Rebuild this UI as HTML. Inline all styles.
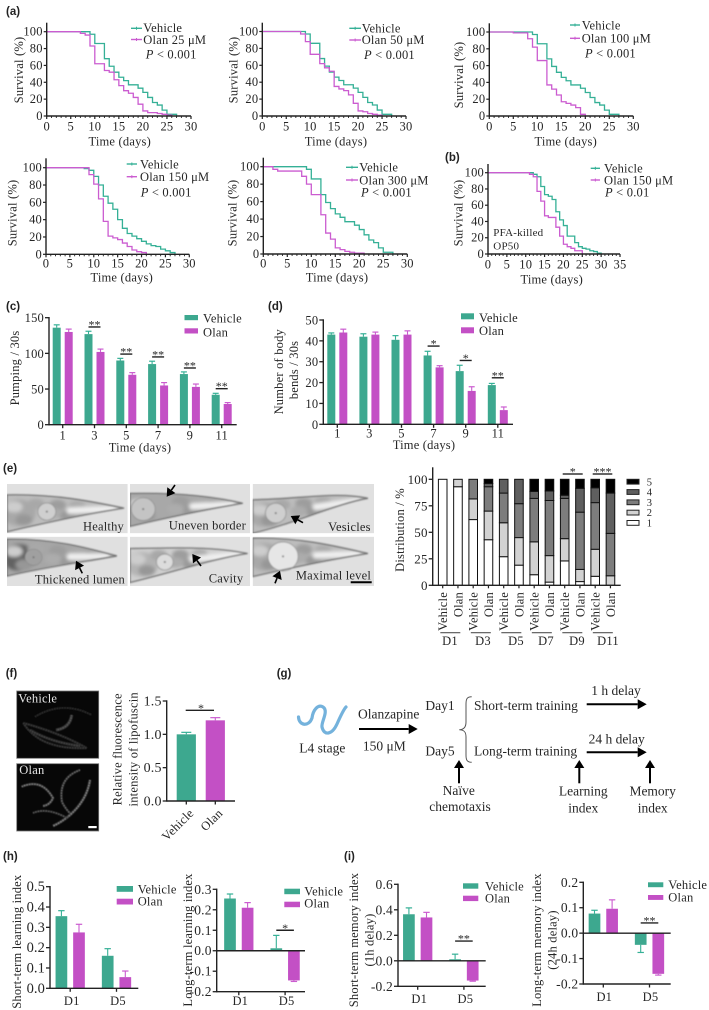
<!DOCTYPE html>
<html lang="en">
<head>
<meta charset="utf-8">
<title>Olanzapine survival and behaviour figure</title>
<style>
html,body{margin:0;padding:0;background:#fff}
svg{display:block}
text{font-family:"Liberation Serif","DejaVu Serif",serif;fill:#262626}
</style>
</head>
<body>
<svg id="figure" xmlns="http://www.w3.org/2000/svg" width="709" height="1010" viewBox="0 0 709 1010">
<defs>
<filter id="soft" x="-20%" y="-20%" width="140%" height="140%"><feGaussianBlur stdDeviation="0.7"/></filter>
<filter id="soft2" x="-20%" y="-20%" width="140%" height="140%"><feGaussianBlur stdDeviation="0.45"/></filter>
<filter id="soft3" x="-20%" y="-20%" width="140%" height="140%"><feGaussianBlur stdDeviation="1.8"/></filter>
</defs>
<rect x="0" y="0" width="709" height="1010" fill="#fff"/>
</svg>
<script>
/* ---------- survival data: % alive during each day interval ---------- */
const survivalDays = [0, 5, 10, 15, 20, 25, 30];
const survivalDaysLong = [0, 5, 10, 15, 20, 25, 30, 35];
const survivalTicks = [0, 20, 40, 60, 80, 100];
const vehicleSurvival = [100,100,100,100,100,100,100,100,100,97,86,86,68,59,52,46,42,37,37,33,28,22,16,13,7,2,2,0];
const vehicleSurvival150 = [100,100,100,100,100,100,100,100,99,97,90,80,67,59,52,40,30,24,21,18,15,12,10,9,6,4,2,0];
const olan25Survival = [100,100,100,100,100,100,100,98,96,83,62,62,54,52,43,36,30,27,22,14,6,4,4,3,2,1,0];
const olan50Survival = [100,100,100,100,100,100,100,100,97,88,73,73,62,57,53,35,32,30,25,15,6,5,3,2,1,0];
const olan100Survival = [100,100,100,100,100,99,99,99,92,82,66,66,37,32,25,17,15,13,10,2,0];
const olan150Survival = [100,100,100,100,100,100,100,100,100,92,81,64,38,21,19,17,13,9,5,3,2,0];
const olan300Survival = [100,100,97,95,95,95,95,95,89,80,68,68,45,24,17,7,5,3,2,1,1,0];
const vehiclePfaSurvival = [100,100,100,100,100,100,100,100,100,100,100,100,98,95,83,73,71,67,52,42,35,22,22,14,9,7,6,4,3,1,0];
const olanPfaSurvival = [100,100,100,100,100,100,100,100,100,100,100,98,95,77,65,47,45,45,33,22,12,9,7,4,4,0];

/* ---------- pumping (c) ---------- */
const timeCategories = ["1","3","5","7","9","11"];
const pumpingTicks = [0,50,100,150];
const pumpingVehicle = [136,127,90,85,71,42];
const pumpingVehicleErr = [4,4,3,4,3,2];
const pumpingOlan = [130,102,70,55,53,29];
const pumpingOlanErr = [4,4,3,4,4,2];
const pumpingSigCats = [1,2,3,4,5];
const pumpingSigLevels = [137,99,95,79.5,50.5];
const pumpingSigLabels = ["**","**","**","**","**"];

/* ---------- body bends (d) ---------- */
const bendsTicks = [0,10,20,30,40,50];
const bendsVehicle = [43,42,40.5,33,25.5,18.8];
const bendsVehicleErr = [0.8,1.4,2,2,2.8,0.8];
const bendsOlan = [44,43,43,27.3,16,6.8];
const bendsOlanErr = [1.6,1.2,1.8,0.8,2,1.5];
const bendsSigCats = [3,4,5];
const bendsSigLevels = [37.5,30.6,22.3];
const bendsSigLabels = ["*","*","**"];

/* ---------- distribution stack (e) ---------- */
const distTicks = [0,25,50,75,100];
const distBars = ["Vehicle","Olan","Vehicle","Olan","Vehicle","Olan","Vehicle","Olan","Vehicle","Olan","Vehicle","Olan"];
const distDays = ["D1","D3","D5","D7","D9","D11"];
const distLevel1 = [100,93,62,43,27,19,10,3,23,3.5,8.5,0];
const distLevel2 = [0,7,19.5,27,32,26,31,25,21,11.5,25.5,9];
const distLevel3 = [0,0,18.5,23,28,32,41,52,38,54,44,40];
const distLevel4 = [0,0,0,3,13,23,6.5,9,3,22.5,14,38];
const distLevel5 = [0,0,0,4,0,0,11.5,11,15,8.5,8,13];
const distLevelNames = ["1","2","3","4","5"];

/* ---------- lipofuscin (f) ---------- */
const lipoCategories = ["Vehicle","Olan"];
const lipoValues = [1.0,1.21];
const lipoErr = [0.03,0.04];
const lipoTicks = [0,0.5,1,1.5];

/* ---------- learning and memory (h, i) ---------- */
const dayCategories = ["D1","D5"];
const shortLearnTicks = [0,0.1,0.2,0.3,0.4,0.5];
const shortLearnVehicle = [0.355,0.16];
const shortLearnVehicleErr = [0.027,0.035];
const shortLearnOlan = [0.275,0.055];
const shortLearnOlanErr = [0.04,0.03];
const longLearnTicks = [-0.2,-0.1,0,0.1,0.2,0.3];
const longLearnVehicle = [0.255,0.012];
const longLearnVehicleErr = [0.022,0.063];
const longLearnOlan = [0.21,-0.145];
const longLearnOlanErr = [0.025,0.005];
const shortMemTicks = [-0.2,0,0.2,0.4,0.6];
const shortMemVehicle = [0.365,0.012];
const shortMemVehicleErr = [0.05,0.04];
const shortMemOlan = [0.34,-0.155];
const shortMemOlanErr = [0.04,0.005];
const longMemTicks = [-0.2,-0.1,0,0.1,0.2];
const longMemVehicle = [0.077,-0.046];
const longMemVehicleErr = [0.013,0.03];
const longMemOlan = [0.096,-0.16];
const longMemOlanErr = [0.035,0.005];

const NS = "http://www.w3.org/2000/svg";
const svg = document.getElementById("figure");
const TEAL = "#3da88f", MAG = "#c350c5", TEALL = "#35b096", MAGL = "#cb5cd0", INK = "#222";

function add(parent, tag, attrs, name) {
  const e = document.createElementNS(NS, tag);
  for (const k in attrs) e.setAttribute(k, attrs[k]);
  
  
  parent.appendChild(e);
  return e;
}
function group(name) { return add(svg, "g", {}, name); }
function text(p, x, y, str, name, o) {
  o = o || {};
  const a = {x:x, y:y, "font-size":o.size||12.5, "text-anchor":o.anchor||"start", "letter-spacing":o.ls===undefined?0.2:o.ls};
  if (o.rotate!==undefined) a.transform = "rotate("+o.rotate+" "+x+" "+y+")";
  if (o.fill) a.style = "fill:"+o.fill;
  if (o.sans) a.style = "font-family:'Liberation Sans',sans-serif;font-weight:bold;fill:#222";
  const t = add(p, "text", a, name);
  t.textContent = str;
  return t;
}
function line(p, x1, y1, x2, y2, name, color, w) {
  return add(p, "line", {x1:x1,y1:y1,x2:x2,y2:y2,stroke:color||INK,"stroke-width":w||1.4}, name);
}
function rect(p, x, y, w, h, fill, name, stroke, sw) {
  const a = {x:x,y:y,width:w,height:h,fill:fill};
  if (stroke) { a.stroke = stroke; a["stroke-width"] = sw||1; }
  return add(p, "rect", a, name);
}
function ytitle(p, x, cy, str, name, size) {
  return text(p, x+4, cy, str, name, {anchor:"middle", rotate:-90, size:size||12.5});
}
function pval(p, x, y, rest, name) {
  const t = text(p, x, y, "", name, {});
  const i = add(t, "tspan", {"font-style":"italic"}, "p-symbol");
  i.textContent = "P";
  const r = add(t, "tspan", {}, "p-value");
  r.textContent = rest;
}
function stepPath(vals, X, Y) {
  let d = "M" + X(0) + " " + Y(vals[0]);
  for (let i = 1; i < vals.length; i++) {
    d += "L" + X(i) + " " + Y(vals[i-1]) + "L" + X(i) + " " + Y(vals[i]);
  }
  return d;
}

/* ---------- survival panels ---------- */
function survivalPanel(c) {
  const g = group(c.name);
  const X = d => c.x0 + (c.x1 - c.x0) * d / c.days[c.days.length-1];
  const Y = v => c.y0 - (c.y0 - c.y100) * v / 100;
  add(g, "path", {d:stepPath(c.v,X,Y),fill:"none",stroke:TEALL,"stroke-width":1.3}, "vehicle-survival-line");
  add(g, "path", {d:stepPath(c.o,X,Y),fill:"none",stroke:MAGL,"stroke-width":1.3}, "olan-survival-line");
  line(g, c.x0, c.top, c.x0, c.y0+0.7, "y-axis");
  line(g, c.x0, c.y0, c.x1, c.y0, "x-axis");
  const last = c.days[c.days.length-1];
  for (let d = 0; d <= last; d++) {
    const major = c.days.indexOf(d) >= 0;
    line(g, X(d), c.y0, X(d), c.y0 + (major?3:2), "x-tick", INK, major?1.2:0.9);
  }
  c.days.forEach(d => text(g, X(d), c.tickY, String(d), "x-tick-label", {anchor:"middle",size:12.5}));
  survivalTicks.forEach(v => {
    line(g, c.x0-3, Y(v), c.x0, Y(v), "y-tick", INK, 1.2);
    text(g, c.x0-4, Y(v)+4, String(v), "y-tick-label", {anchor:"end",size:12.5});
  });
  ytitle(g, c.ytX, c.ytY, "Survival (%)", "y-axis-title", 12.5);
  text(g, c.xtX, c.xtY, "Time (days)", "x-axis-title", {anchor:"middle",size:12.5});
  const lg = add(g, "g", {}, "legend");
  line(lg, c.lx, c.ly1, c.lx2, c.ly1, "legend-vehicle-line", TEALL, 1.4);
  line(lg, (c.lx+c.lx2)/2, c.ly1-1.5, (c.lx+c.lx2)/2, c.ly1+1.5, "legend-vehicle-marker", TEALL, 1);
  line(lg, c.lx, c.ly2, c.lx2, c.ly2, "legend-olan-line", MAGL, 1.4);
  line(lg, (c.lx+c.lx2)/2, c.ly2-1.5, (c.lx+c.lx2)/2, c.ly2+1.5, "legend-olan-marker", MAGL, 1);
  text(lg, c.tx, c.tb1, "Vehicle", "legend-vehicle");
  text(lg, c.tx, c.tb2, c.olanLabel, "legend-olan");
  pval(g, c.px, c.pb, " < " + c.pv, "p-value-label");
  return g;
}
survivalPanel({name:"survival-olan-25",days:survivalDays,x0:46.7,x1:191,y0:116,y100:31.7,top:22.7,v:vehicleSurvival,o:olan25Survival,tickY:130.7,ytX:19,ytY:70,xtX:119.7,xtY:145.7,lx:131,lx2:142,ly1:28.3,ly2:39.5,tx:143.3,tb1:32,tb2:44,olanLabel:"Olan 25 μM",px:145.7,pb:58.3,pv:"0.001"});
survivalPanel({name:"survival-olan-50",days:survivalDays,x0:262.3,x1:406,y0:116,y100:31.5,top:22.7,v:vehicleSurvival,o:olan50Survival,tickY:130.7,ytX:233.3,ytY:70,xtX:336,xtY:145.7,lx:349.3,lx2:361,ly1:28.3,ly2:40,tx:361.7,tb1:32.5,tb2:44,olanLabel:"Olan 50 μM",px:364,pb:59,pv:"0.001"});
survivalPanel({name:"survival-olan-100",days:survivalDays,x0:489.3,x1:633.3,y0:116,y100:32,top:23.3,v:vehicleSurvival,o:olan100Survival,tickY:130.7,ytX:459,ytY:75,xtX:565.7,xtY:145.7,lx:570,lx2:580,ly1:25,ly2:38.3,tx:581.7,tb1:29.3,tb2:42.3,olanLabel:"Olan 100 μM",px:585,pb:57.3,pv:"0.001"});
survivalPanel({name:"survival-olan-150",days:survivalDays,x0:46,x1:189.3,y0:254.3,y100:167.7,top:158.3,v:vehicleSurvival150,o:olan150Survival,tickY:267.7,ytX:12.3,ytY:213,xtX:121.7,xtY:281.7,lx:126.7,lx2:137,ly1:164,ly2:176.7,tx:140,tb1:168.3,tb2:181,olanLabel:"Olan 150 μM",px:140.7,pb:196.7,pv:"0.001"});
survivalPanel({name:"survival-olan-300",days:survivalDays,x0:263.3,x1:407.3,y0:254,y100:166.7,top:157.7,v:vehicleSurvival,o:olan300Survival,tickY:267.7,ytX:232.3,ytY:213,xtX:337,xtY:281.7,lx:346,lx2:358,ly1:167.3,ly2:180,tx:359.3,tb1:171.7,tb2:184.3,olanLabel:"Olan 300 μM",px:361,pb:196.7,pv:"0.001"});
const pfaPanel = survivalPanel({name:"survival-pfa-killed",days:survivalDaysLong,x0:488,x1:620,y0:254,y100:172.7,top:164,v:vehiclePfaSurvival,o:olanPfaSurvival,tickY:268.3,ytX:458.3,ytY:213,xtX:551.7,xtY:283.3,lx:590.7,lx2:600,ly1:168.3,ly2:180,tx:604,tb1:172.7,tb2:184.3,olanLabel:"Olan 150 μM",px:605,pb:196.7,pv:"0.01"});
text(pfaPanel, 493.3, 236, "PFA-killed", "pfa-note-line-1", {size:11});
text(pfaPanel, 493.3, 249.3, "OP50", "pfa-note-line-2", {size:11});

/* ---------- bar panels ---------- */
function barPanel(c) {
  const g = group(c.name);
  const Y = v => c.yBottom - (c.yBottom - c.yTop) * (v - c.dMin) / (c.dMax - c.dMin);
  const base = Y(Math.max(0, c.dMin));
  function bar(cx, v, e, fill, lite, nm) {
    const y = Y(v);
    rect(g, cx - c.w/2, Math.min(y, base), c.w, Math.abs(base - y), fill, nm + "-bar");
    const tip = v >= 0 ? Y(v + e) : Y(v - e);
    line(g, cx, y, cx, tip, nm + "-error", lite, 1.1);
    line(g, cx - c.cap, tip, cx + c.cap, tip, nm + "-error-cap", lite, 1.2);
  }
  c.cats.forEach((cat, i) => {
    const cx = c.x0 + c.step * i;
    bar(cx - c.off, c.v[i], c.vErr[i], TEAL, TEALL, "vehicle-" + cat.toLowerCase());
    bar(cx + c.off, c.o[i], c.oErr[i], MAG, MAGL, "olan-" + cat.toLowerCase());
    line(g, cx, c.yBottom, cx, c.yBottom + 3.5, "x-tick", INK, 1.3);
    text(g, cx + (c.labDx||0), c.labY, cat, "x-tick-label", {anchor:"middle", size:c.catSize||12.5});
  });
  line(g, c.ax, c.axisTop===undefined?c.yTop-0.7:c.axisTop, c.ax, c.yBottom+0.7, "y-axis");
  line(g, c.ax, c.yBottom, c.right, c.yBottom, "x-axis");
  if (c.dMin < 0) line(g, c.ax, Y(0), c.right, Y(0), "zero-line");
  c.ticks.forEach(v => {
    line(g, c.ax-4, Y(v), c.ax, Y(v), "y-tick", INK, 1.3);
    const lab = c.dec ? v.toFixed(1) : String(v);
    text(g, c.ax-5, Y(v)+4.5, lab, "y-tick-label", {anchor:"end", size:c.tickSize||12.5, ls:c.tickLs===undefined?0.2:c.tickLs});
  });
  (c.sigCats||[]).forEach((ci, i) => {
    const cx = c.x0 + c.step * ci;
    const sy = Y(c.sigLevels[i]);
    line(g, cx - c.off, sy, cx + c.off, sy, "significance-bar", INK, 1.4);
    text(g, cx, sy + 1.5, c.sigLabels[i], "significance-label", {anchor:"middle", size:12, ls:0});
  });
  const lg = add(g, "g", {}, "legend");
  rect(lg, c.lx, c.ly1, c.lw, c.lh, TEAL, "legend-vehicle-swatch");
  rect(lg, c.lx, c.ly2, c.lw, c.lh, MAG, "legend-olan-swatch");
  text(lg, c.tx, c.tb1, "Vehicle", "legend-vehicle");
  text(lg, c.tx, c.tb2, "Olan", "legend-olan");
  return g;
}
const pumpingPanel = barPanel({name:"pumping-chart",ax:49,right:236.7,yTop:317.7,yBottom:424.7,dMin:0,dMax:150,x0:62.7,step:31.8,off:6,w:8,cap:3,cats:timeCategories,v:pumpingVehicle,vErr:pumpingVehicleErr,o:pumpingOlan,oErr:pumpingOlanErr,ticks:pumpingTicks,labY:439.3,sigCats:pumpingSigCats,sigLevels:pumpingSigLevels,sigLabels:pumpingSigLabels,lx:184.5,lw:13.5,lh:5.2,ly1:315,ly2:328.3,tx:203,tb1:322.7,tb2:336.7});
ytitle(pumpingPanel, 15, 368, "Pumping / 30s", "y-axis-title");
text(pumpingPanel, 140, 451.7, "Time (days)", "x-axis-title", {anchor:"middle"});

const bendsPanel = barPanel({name:"body-bends-chart",ax:323.3,right:513,yTop:320,yBottom:424.3,dMin:0,dMax:50,x0:337.3,step:32.1,off:6,w:8,cap:3,cats:timeCategories,v:bendsVehicle,vErr:bendsVehicleErr,o:bendsOlan,oErr:bendsOlanErr,ticks:bendsTicks,labY:437.7,sigCats:bendsSigCats,sigLevels:bendsSigLevels,sigLabels:bendsSigLabels,lx:461,lw:13,lh:6,ly1:313.3,ly2:327.3,tx:479,tb1:322,tb2:335});
ytitle(bendsPanel, 279, 371.7, "Number of body", "y-axis-title-line-1");
ytitle(bendsPanel, 294, 370, "bends / 30s", "y-axis-title-line-2");
text(bendsPanel, 424, 449, "Time (days)", "x-axis-title", {anchor:"middle"});

const shortLearn = barPanel({name:"short-term-learning-chart",ax:50,right:138.3,yTop:886.7,yBottom:988.3,dMin:0,dMax:0.5,x0:70.2,step:46.3,off:8.8,w:11.7,cap:3.2,cats:dayCategories,v:shortLearnVehicle,vErr:shortLearnVehicleErr,o:shortLearnOlan,oErr:shortLearnOlanErr,ticks:shortLearnTicks,dec:true,tickSize:14.5,tickLs:0.1,labY:1005,labDx:1.5,catSize:12.5,lx:116.7,lw:16.3,lh:5.8,ly1:886,ly2:898.7,tx:137.7,tb1:893.5,tb2:905.5});
ytitle(shortLearn, 17, 941.7, "Short-term learning index", "y-axis-title");

const longLearn = barPanel({name:"long-term-learning-chart",ax:216.7,right:305,yTop:889.3,yBottom:991.7,dMin:-0.2,dMax:0.3,x0:238.8,step:46.3,off:8.8,w:11.7,cap:3.2,cats:dayCategories,v:longLearnVehicle,vErr:longLearnVehicleErr,o:longLearnOlan,oErr:longLearnOlanErr,ticks:longLearnTicks,dec:true,tickSize:13.5,labY:1005,labDx:1.5,sigCats:[1],sigLevels:[0.1],sigLabels:["*"],lx:284.3,lw:15.7,lh:5.5,ly1:888.7,ly2:901.7,tx:304.3,tb1:895.7,tb2:907.5});
ytitle(longLearn, 188, 940, "Long-term learning index", "y-axis-title");

const shortMem = barPanel({name:"short-term-memory-chart",ax:398,right:485.7,yTop:884.3,yBottom:986.3,dMin:-0.2,dMax:0.6,x0:417.7,step:46.2,off:8.8,w:11.7,cap:3.2,cats:dayCategories,v:shortMemVehicle,vErr:shortMemVehicleErr,o:shortMemOlan,oErr:shortMemOlanErr,ticks:shortMemTicks,dec:true,tickSize:13.5,labY:1003,labDx:1.5,sigCats:[1],sigLevels:[0.155],sigLabels:["**"],lx:463,lw:15.3,lh:5.4,ly1:883.3,ly2:895.7,tx:485,tb1:890.3,tb2:902.3});
ytitle(shortMem, 354, 940, "Short-term memory index", "y-axis-title-line-1");
ytitle(shortMem, 369.7, 940, "(1h delay)", "y-axis-title-line-2");

const longMem = barPanel({name:"long-term-memory-chart",ax:583.3,right:670.7,yTop:882.3,yBottom:984,dMin:-0.2,dMax:0.2,x0:603.3,step:46.2,off:8.8,w:11.7,cap:3.2,cats:dayCategories,v:longMemVehicle,vErr:longMemVehicleErr,o:longMemOlan,oErr:longMemOlanErr,ticks:longMemTicks,dec:true,tickSize:13.5,labY:1001,labDx:1,sigCats:[1],sigLevels:[0.04],sigLabels:["**"],lx:648,lw:15.3,lh:4.9,ly1:882.3,ly2:895,tx:668.3,tb1:889,tb2:901.3});
ytitle(longMem, 537, 940, "Long-term memory index", "y-axis-title-line-1");
ytitle(longMem, 552.3, 940, "(24h delay)", "y-axis-title-line-2");

/* ---------- stacked distribution (e) ---------- */
(function () {
  const g = group("distribution-chart");
  const levels = [distLevel1, distLevel2, distLevel3, distLevel4, distLevel5];
  const fills = ["#ffffff", "#d2d2d2", "#7d7d7d", "#5f5f5f", "#000000"];
  const ax = 432.7, y0 = 585.3, y100 = 479.3;
  const X = i => 442.7 + 15.25 * i;
  const Y = v => y0 - (y0 - y100) * v / 100;
  distBars.forEach((label, i) => {
    let run = 0;
    levels.forEach((arr, l) => {
      if (arr[i] <= 0) return;
      rect(g, X(i) - 4.3, Y(run + arr[i]), 8.6, Y(run) - Y(run + arr[i]), fills[l], "stack-" + label.toLowerCase() + "-level-" + distLevelNames[l], "#111", 1);
      run += arr[i];
    });
    line(g, X(i), y0, X(i), y0 + 3, "x-tick", INK, 1.2);
    text(g, X(i) + 4.5, 592, label, "bar-label", {anchor:"end", rotate:-90, size:12.5});
  });
  line(g, ax, 467.3, ax, y0 + 0.7, "y-axis");
  line(g, ax, y0, 620.7, y0, "x-axis");
  distTicks.forEach(v => {
    line(g, ax - 4, Y(v), ax, Y(v), "y-tick", INK, 1.3);
    text(g, ax - 5, Y(v) + 4.5, String(v), "y-tick-label", {anchor:"end", size:13});
  });
  ytitle(g, 400, 530, "Distribution / %", "y-axis-title", 12.5);
  const dayX = [450, 483, 516, 546, 577, 608];
  distDays.forEach((d, i) => {
    const cx = (X(2 * i) + X(2 * i + 1)) / 2;
    line(g, cx - 10, 632.7, cx + 10, 632.7, "day-bracket", "#555", 1.2);
    text(g, dayX[i], 645, d, "day-label", {anchor:"middle", size:12.5});
  });
  line(g, 562.7, 474, 582.7, 474, "significance-bar", "#333", 1.4);
  text(g, 572.7, 475.5, "*", "significance-label", {anchor:"middle", size:12, ls:0});
  line(g, 592.7, 474, 612.3, 474, "significance-bar", "#333", 1.4);
  text(g, 602.5, 475.5, "***", "significance-label", {anchor:"middle", size:12, ls:0});
  const lg = add(g, "g", {}, "legend");
  for (let l = 4; l >= 0; l--) {
    const y = 479.3 + (4 - l) * 10.3;
    rect(lg, 627, y, 12, 4.8, fills[l], "legend-swatch-" + distLevelNames[l], "#222", 1);
    text(lg, 646.7, y + 6, distLevelNames[l], "legend-label-" + distLevelNames[l], {size:10.5});
  }
})();

/* ---------- lipofuscin bars (f) ---------- */
(function () {
  const g = group("lipofuscin-chart");
  const ax = 166.7, y0 = 801, yMax = 701;
  const X = [186.3, 215.3];
  const Y = v => y0 - (y0 - yMax) * v / 1.5;
  const fills = [TEAL, MAG], lites = [TEALL, MAGL];
  lipoCategories.forEach((cat, i) => {
    rect(g, X[i] - 9.6, Y(lipoValues[i]), 19.2, y0 - Y(lipoValues[i]), fills[i], "bar-" + cat.toLowerCase());
    const tip = Y(lipoValues[i] + lipoErr[i]);
    line(g, X[i], Y(lipoValues[i]), X[i], tip, "error-" + cat.toLowerCase(), lites[i], 1.1);
    line(g, X[i] - 5, tip, X[i] + 5, tip, "error-cap-" + cat.toLowerCase(), lites[i], 1.2);
    line(g, X[i], y0, X[i], y0 + 3.5, "x-tick", INK, 1.3);
    text(g, X[i] + 8, y0 + 13, cat, "x-tick-label", {anchor:"end", rotate:-45, size:12.5});
  });
  line(g, ax, yMax - 0.7, ax, y0 + 0.7, "y-axis");
  line(g, ax, y0, 235, y0, "x-axis");
  lipoTicks.forEach(v => {
    line(g, ax - 4, Y(v), ax, Y(v), "y-tick", INK, 1.3);
    text(g, ax - 5, Y(v) + 4.5, v.toFixed(1), "y-tick-label", {anchor:"end", size:14});
  });
  line(g, 185.7, 710.3, 214, 710.3, "significance-bar", INK, 1.4);
  text(g, 201, 711.8, "*", "significance-label", {anchor:"middle", size:12, ls:0});
  ytitle(g, 117.3, 749.3, "Relative fluorescence", "y-axis-title-line-1", 12.5);
  ytitle(g, 133.7, 749.3, "intensity of lipofuscin", "y-axis-title-line-2", 12.5);
})();

/* ---------- micrographs (e) ---------- */
function micro(m, i) {
  const g = group("micrograph-" + m.name);
  const cp = add(svg.querySelector("defs"), "clipPath", {id:"clip" + i}, "micrograph-clip");
  rect(cp, m.x, m.y, m.w, m.h, "#000", "micrograph-clip-rect");
  g.setAttribute("clip-path", "url(#clip" + i + ")");
  rect(g, m.x, m.y, m.w, m.h, "#e0e0e0", "micrograph-background");
  const tx = m.x + m.w * m.tipX, ty = m.y + m.h * m.tipY;
  const top = m.y + m.h * m.top, bot = m.y + m.h * m.bot;
  const d = "M" + m.x + " " + top + " C" + (m.x + m.w * .4) + " " + (top - m.h * .02) + " " + (m.x + m.w * .7) + " " + (ty - m.h * .14) + " " + tx + " " + ty +
    " C" + (m.x + m.w * .7) + " " + (ty + m.h * .1) + " " + (m.x + m.w * .35) + " " + (bot - m.h * .2) + " " + m.x + " " + bot + "Z";
  const bc = add(svg.querySelector("defs"), "clipPath", {id:"bodyclip" + i}, "worm-clip");
  add(bc, "path", {d:d}, "worm-clip-shape");
  add(g, "path", {d:d, fill:m.body || "#bdbdbd"}, "worm-fill");
  const mid = t => (top + bot) / 2 + (ty - (top + bot) / 2) * t;
  const half = t => (bot - top) / 2 * (1 - t * .85);
  const clipG = add(g, "g", {"clip-path":"url(#bodyclip" + i + ")"}, "worm-tissue-clip");
  const inner = add(clipG, "g", {filter:"url(#soft3)"}, "worm-tissue-layer");
  add(inner, "ellipse", {cx:m.x + m.w * .1, cy:mid(.1), rx:m.w * .14, ry:m.h * (m.bot - m.top) * .36, fill:m.dark || "#a8a8a8"}, "worm-intestine");
  [[.06,-.35,"#cdcdcd"],[.14,.45,"#979797"],[.24,-.55,"#a8a8a8"],[.42,-.5,"#9d9d9d"],[.5,.45,"#9a9a9a"],[.38,.15,"#acacac"],[.58,-.45,"#ababab"],[.62,.4,"#a9a9a9"]].forEach(b => {
    add(inner, "ellipse", {cx:m.x + m.w * b[0], cy:mid(b[0]) + half(b[0]) * b[1], rx:m.w * .07, ry:m.h * .11, fill:b[2]}, "worm-tissue");
  });
  add(inner, "path", {d:"M" + (m.x + m.w * .52) + " " + mid(.52) + " L" + (m.x + m.w * (m.tipX - .08)) + " " + mid(m.tipX - .08), stroke:"#f0f0f0", "stroke-width":m.h * .13, "stroke-linecap":"round", fill:"none"}, "worm-lumen");
  const crisp = add(g, "g", {filter:"url(#soft)"}, "worm-structures");
  add(crisp, "ellipse", {cx:m.x + m.w * m.bulb, cy:mid(m.bulb), rx:m.bulbR * m.w, ry:m.bulbR * m.w * .95, fill:m.bulbFill || "#cfcfcf", stroke:"#8f8f8f", "stroke-width":0.8}, "worm-pharynx-bulb");
  add(crisp, "circle", {cx:m.x + m.w * m.bulb, cy:mid(m.bulb), r:1, fill:"#707070"}, "worm-bulb-core");
  add(crisp, "path", {d:d, fill:"none", stroke:"#767676", "stroke-width":1.3}, "worm-outline");
  m.labels.forEach(l => text(g, l[0], l[1], l[2], "micrograph-label", {anchor:l[3], size:12.5}));
  return g;
}
const micrographs = [
  {name:"healthy",x:7,y:484,w:120.7,h:49.3,top:.22,bot:.97,tipX:.97,tipY:.49,bulb:.33,bulbR:.075,labels:[[124,530.7,"Healthy","end"]]},
  {name:"uneven-border",x:130,y:484,w:120,h:49.3,top:.19,bot:.86,tipX:.94,tipY:.39,bulb:.11,bulbR:.1,bulbFill:"#c4c4c4",dark:"#a8a8a8",body:"#a8a8a8",labels:[[246,529.3,"Uneven border","end"]]},
  {name:"vesicles",x:252.7,y:484,w:121.3,h:49.3,top:.32,bot:1,tipX:.95,tipY:.29,bulb:.19,bulbR:.085,labels:[[370.7,531,"Vesicles","end"]]},
  {name:"thickened-lumen",x:7,y:536.7,w:120.7,h:49.3,top:.05,bot:.8,tipX:.91,tipY:.39,bulb:.22,bulbR:.07,dark:"#626262",bulbFill:"#a0a0a0",body:"#a6a6a6",labels:[[125,583.3,"Thickened lumen","end"]]},
  {name:"cavity",x:130,y:536.7,w:120,h:49.3,top:.24,bot:.93,tipX:.98,tipY:.34,bulb:.29,bulbR:.07,bulbFill:"#dcdcdc",body:"#cfcfcf",dark:"#b4b4b4",labels:[[243.3,582.3,"Cavity","end"]]},
  {name:"maximal-level",x:252.7,y:536.7,w:121.3,h:49.3,top:.03,bot:.81,tipX:.95,tipY:.34,bulb:.25,bulbR:.125,bulbFill:"#e6e6e6",labels:[[371,579.3,"Maximal level","end"]]}
];
micrographs.forEach(micro);

function blockArrow(p, x1, y1, x2, y2, name, headL, headW, w) {
  const dx = x2 - x1, dy = y2 - y1, L = Math.hypot(dx, dy), ux = dx / L, uy = dy / L;
  const bx = x2 - ux * headL, by = y2 - uy * headL;
  const g = add(p, "g", {}, name);
  line(g, x1, y1, bx, by, name + "-shaft", "#000", w);
  add(g, "polygon", {points:x2 + "," + y2 + " " + (bx - uy * headW) + "," + (by + ux * headW) + " " + (bx + uy * headW) + "," + (by - ux * headW), fill:"#000"}, name + "-head");
}
const mArrows = group("micrograph-annotations");
blockArrow(mArrows, 175, 485, 166.7, 496.7, "arrow-uneven-border", 8, 5, 1.6);
blockArrow(mArrows, 303, 522.7, 290.7, 516, "arrow-vesicles", 8, 5, 1.6);
blockArrow(mArrows, 82.3, 573.3, 76, 560.7, "arrow-thickened-lumen", 8, 5, 1.6);
blockArrow(mArrows, 201, 566, 192.3, 554, "arrow-cavity", 8, 5, 1.6);
blockArrow(mArrows, 275, 583.3, 280, 570.7, "arrow-maximal-level", 8, 5, 1.6);
line(mArrows, 350.7, 582.3, 371.7, 582.3, "scale-bar", "#000", 2);

/* ---------- fluorescence images (f) ---------- */
(function () {
  const g = group("fluorescence-images");
  rect(g, 16.7, 691, 82, 67.3, "#070707", "vehicle-image", "#777", 0.8);
  rect(g, 16.7, 763.7, 82, 67.3, "#070707", "olan-image", "#777", 0.8);
  function worm(parent, d, name, glow, dot, w) {
    add(parent, "path", {d:d, fill:"none", stroke:glow, "stroke-width":w}, name + "-glow");
    add(parent, "path", {d:d, fill:"none", stroke:dot, "stroke-width":1, "stroke-dasharray":"1 1.6"}, name + "-dots");
  }
  const vW = add(g, "g", {filter:"url(#soft2)"}, "vehicle-worms");
  worm(vW, "M35 716.7 Q63 700 91.7 715", "vehicle-worm-small", "#161616", "#3e3e3e", 2.5);
  worm(vW, "M23.3 723 Q60 733 86.7 748", "vehicle-worm-upper-edge", "#222", "#4e4e4e", 2.5);
  worm(vW, "M23.3 723 Q40 750 86.7 748", "vehicle-worm-lower-edge", "#222", "#4e4e4e", 2.5);
  worm(vW, "M30 730 Q50 742 80 746", "vehicle-worm-middle", "#2a2a2a", "#5a5a5a", 3);
  worm(vW, "M71.7 715 Q70 728 56 730", "vehicle-worm-bend", "#3a3a3a", "#707070", 3);
  const oW = add(g, "g", {filter:"url(#soft2)"}, "olan-worms");
  worm(oW, "M21.7 786.7 Q41.7 778 53 798 Q50 805 43 806", "olan-worm-left", "#444", "#a0a0a0", 2.4);
  worm(oW, "M80 770 Q58 778 62 802 Q66 810 72 815", "olan-worm-middle", "#333", "#8c8c8c", 2.4);
  worm(oW, "M90 780 Q87 800 70 815 Q62 822 53 826", "olan-worm-right", "#484848", "#acacac", 2.6);
  worm(oW, "M33 813 Q47 807 67 818", "olan-worm-lower", "#2a2a2a", "#787878", 2.2);
  text(g, 18.3, 702.3, "Vehicle", "vehicle-image-label", {fill:"#e6e6e6", size:12.5});
  text(g, 19.3, 774, "Olan", "olan-image-label", {fill:"#e6e6e6", size:12.5});
  rect(g, 88.3, 826, 8.4, 2.2, "#fff", "fluorescence-scale-bar");
})();

/* ---------- schematic (g) ---------- */
(function () {
  const g = group("protocol-schematic");
  add(g, "path", {d:"M298.5 717 C299 726 309 727 312 718 C313 710 318 704 323 707 C329 711 321 722 322 727 C324 736 332 735 337 724 C341 715 344 709 346 707", fill:"none", stroke:"#74b2dc", "stroke-width":3.2, "stroke-linecap":"round"}, "worm-icon");
  const s = 13.5;
  text(g, 322.3, 752.3, "L4 stage", "l4-stage-label", {anchor:"middle", size:s, ls:0});
  text(g, 388.7, 718.3, "Olanzapine", "olanzapine-label", {anchor:"middle", size:s, ls:0});
  text(g, 384.3, 750.3, "150 μM", "dose-label", {anchor:"middle", size:s, ls:0});
  blockArrow(g, 359, 729, 417.7, 729, "treatment-arrow", 9, 5, 2);
  text(g, 440, 710, "Day1", "day-1-label", {anchor:"middle", size:s, ls:0});
  text(g, 440, 755.7, "Day5", "day-5-label", {anchor:"middle", size:s, ls:0});
  add(g, "path", {d:"M471.7 696.7 C467 696.7 466 699 466 704 L466 722 C466 727 464 729.7 459.3 729.7 C464 729.7 466 732 466 737 L466 755 C466 760 467 762.3 471.7 762.3", fill:"none", stroke:"#555", "stroke-width":1}, "training-brace");
  text(g, 474, 710, "Short-term training", "short-term-training-label", {size:s, ls:0});
  text(g, 474, 755.7, "Long-term training", "long-term-training-label", {size:s, ls:0});
  text(g, 616, 695, "1 h delay", "one-hour-delay-label", {anchor:"middle", size:s, ls:0});
  text(g, 616.7, 743.3, "24 h delay", "twenty-four-hour-delay-label", {anchor:"middle", size:s, ls:0});
  blockArrow(g, 586.7, 704.3, 646.7, 704.3, "short-delay-arrow", 9, 5, 2);
  blockArrow(g, 586.7, 752.3, 646.7, 752.3, "long-delay-arrow", 9, 5, 2);
  blockArrow(g, 459, 783.3, 459, 760, "naive-chemotaxis-arrow", 8, 5, 2);
  blockArrow(g, 579.3, 783.3, 579.3, 760, "learning-index-arrow", 8, 5, 2);
  blockArrow(g, 650, 783.3, 650, 760, "memory-index-arrow", 8, 5, 2);
  text(g, 458.7, 795, "Naïve", "naive-label", {anchor:"middle", size:s, ls:0});
  text(g, 460, 811, "chemotaxis", "chemotaxis-label", {anchor:"middle", size:s, ls:0});
  text(g, 583.3, 795.7, "Learning", "learning-label", {anchor:"middle", size:s, ls:0});
  text(g, 583.3, 812.3, "index", "learning-index-label", {anchor:"middle", size:s, ls:0});
  text(g, 652.7, 795.7, "Memory", "memory-label", {anchor:"middle", size:s, ls:0});
  text(g, 652.7, 812.3, "index", "memory-index-label", {anchor:"middle", size:s, ls:0});
})();

/* ---------- panel letters ---------- */
(function () {
  const g = group("panel-letters");
  const letters = [["(a)",6,15],["(b)",445,161],["(c)",6,310],["(d)",268,310],["(e)",3,472],["(f)",5.7,677],["(g)",276.7,677],["(h)",3,860],["(i)",344,860]];
  letters.forEach(l => text(g, l[1], l[2], l[0], "panel-label-" + l[0].charAt(1), {size:11.5, sans:true, ls:0}));
})();
</script>
</body>
</html>
